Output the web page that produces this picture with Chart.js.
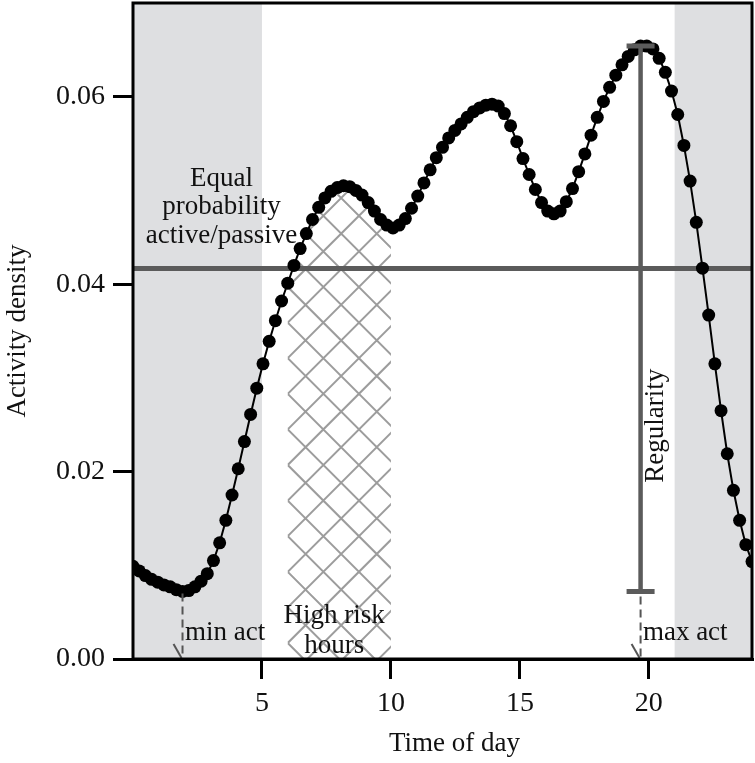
<!DOCTYPE html>
<html lang="en">
<head>
<meta charset="utf-8">
<title>Activity density by time of day</title>
<style>
  html, body { margin: 0; padding: 0; background: #fff; }
  #wrap { width: 755px; height: 763px; }
</style>
</head>
<body>
<div id="wrap"><canvas id="activityChart" width="755" height="763"></canvas></div>

<script src="https://cdn.jsdelivr.net/npm/chart.js@4.4.1/dist/chart.umd.min.js"></script>
<script>
// time grid (hours) and activity density
const hours = [
  0.00, 0.24, 0.48, 0.72, 0.96, 1.20, 1.44, 1.68, 1.92, 2.16,
  2.40, 2.64, 2.88, 3.12, 3.36, 3.60, 3.84, 4.08, 4.32, 4.56,
  4.80, 5.04, 5.28, 5.52, 5.76, 6.00, 6.24, 6.48, 6.72, 6.96,
  7.20, 7.44, 7.68, 7.92, 8.16, 8.40, 8.64, 8.88, 9.12, 9.36,
  9.60, 9.84, 10.08, 10.32, 10.56, 10.80, 11.04, 11.28, 11.52, 11.76,
  12.00, 12.24, 12.48, 12.72, 12.96, 13.20, 13.44, 13.68, 13.92, 14.16,
  14.40, 14.64, 14.88, 15.12, 15.36, 15.60, 15.84, 16.08, 16.32, 16.56,
  16.80, 17.04, 17.28, 17.52, 17.76, 18.00, 18.24, 18.48, 18.72, 18.96,
  19.20, 19.44, 19.68, 19.92, 20.16, 20.40, 20.64, 20.88, 21.12, 21.36,
  21.60, 21.84, 22.08, 22.32, 22.56, 22.80, 23.04, 23.28, 23.52, 23.76,
  24.00
];
const density = [
  0.0099, 0.0094, 0.0089, 0.0085, 0.0082, 0.0079, 0.0077, 0.0074, 0.0072, 0.0073,
  0.0077, 0.0083, 0.0091, 0.0105, 0.0124, 0.0148, 0.0175, 0.0203, 0.0232, 0.0261,
  0.0289, 0.0315, 0.0339, 0.0361, 0.0382, 0.0401, 0.0420, 0.0438, 0.0454, 0.0469,
  0.0482, 0.0492, 0.0499, 0.0503, 0.0505, 0.0504, 0.0500, 0.0495, 0.0487, 0.0478,
  0.0469, 0.0463, 0.0460, 0.0463, 0.0470, 0.0481, 0.0494, 0.0508, 0.0522, 0.0535,
  0.0546, 0.0556, 0.0564, 0.0571, 0.0578, 0.0584, 0.0588, 0.0591, 0.0592, 0.0590,
  0.0582, 0.0569, 0.0552, 0.0534, 0.0517, 0.0501, 0.0487, 0.0478, 0.0475, 0.0478,
  0.0488, 0.0502, 0.0520, 0.0539, 0.0559, 0.0578, 0.0595, 0.0610, 0.0623, 0.0634,
  0.0643, 0.0650, 0.0654, 0.0654, 0.0651, 0.0641, 0.0626, 0.0606, 0.0581, 0.0548,
  0.0510, 0.0466, 0.0417, 0.0367, 0.0315, 0.0265, 0.0219, 0.0180, 0.0148, 0.0122,
  0.0104
];
const xTicks = [5, 10, 15, 20];
const yTicks = [0, 0.02, 0.04, 0.06];
const nightHours = [[0, 5], [21, 24]];   // grey background
const riskHours = [6, 10];               // hatched block
const equalLevel = 0.04167;              // 1/24, equal probability active/passive

const FONT = '"Liberation Serif", "Times New Roman", serif';
const DARK_GREY = '#5b5b5b';

const iMax = density.indexOf(Math.max(...density));
const iMin = density.indexOf(Math.min(...density));

// density value at an arbitrary hour, only used for the hatch outline
function densityAt(h) {
  for (let i = 1; i < hours.length; i++) {
    if (hours[i] >= h) {
      const t = (h - hours[i - 1]) / (hours[i] - hours[i - 1]);
      return density[i - 1] + t * (density[i] - density[i - 1]);
    }
  }
  return density[density.length - 1];
}

const backdrop = {
  id: 'backdrop',
  beforeDatasetsDraw(chart) {
    const { ctx, chartArea: a, scales: { x, y } } = chart;
    ctx.save();
    ctx.beginPath();
    ctx.rect(a.left, a.top, a.right - a.left, a.bottom - a.top);
    ctx.clip();

    ctx.fillStyle = '#dedfe1';
    nightHours.forEach(([s, e]) => {
      const x0 = x.getPixelForValue(s), x1 = x.getPixelForValue(e);
      ctx.fillRect(x0, a.top, x1 - x0, a.bottom - a.top);
    });

    // cross hatch under the curve for the high risk hours
    ctx.save();
    const [h0, h1] = riskHours;
    const px0 = x.getPixelForValue(h0), px1 = x.getPixelForValue(h1);
    ctx.beginPath();
    ctx.moveTo(px0, a.bottom);
    ctx.lineTo(px0, y.getPixelForValue(densityAt(h0)));
    hours.forEach((h, i) => {
      if (h > h0 && h < h1) ctx.lineTo(x.getPixelForValue(h), y.getPixelForValue(density[i]));
    });
    ctx.lineTo(px1, y.getPixelForValue(densityAt(h1)));
    ctx.lineTo(px1, a.bottom);
    ctx.closePath();
    ctx.clip();
    const step = 35.6;
    const ax = px0, ay = a.bottom - 16;
    const xa = px0 - 60, xb = px1 + 60;
    ctx.strokeStyle = '#9c9c9c';
    ctx.lineWidth = 2;
    ctx.beginPath();
    for (let k = -40; k <= 40; k++) {
      const c1 = ay - ax + k * step;
      ctx.moveTo(xa, xa + c1);
      ctx.lineTo(xb, xb + c1);
      const c2 = ay + ax + k * step;
      ctx.moveTo(xa, c2 - xa);
      ctx.lineTo(xb, c2 - xb);
    }
    ctx.stroke();
    ctx.restore();

    // equal probability line
    const ly = y.getPixelForValue(equalLevel);
    ctx.strokeStyle = DARK_GREY;
    ctx.lineWidth = 5;
    ctx.beginPath();
    ctx.moveTo(a.left, ly);
    ctx.lineTo(a.right, ly);
    ctx.stroke();

    // labels
    ctx.fillStyle = '#111';
    ctx.font = '27px ' + FONT;
    ctx.textBaseline = 'alphabetic';
    ctx.textAlign = 'center';
    const cx = x.getPixelForValue(3.43);
    ctx.fillText('Equal', cx, y.getPixelForValue(0.0505));
    ctx.fillText('probability', cx, y.getPixelForValue(0.0475));
    ctx.fillText('active/passive', cx, y.getPixelForValue(0.0444));
    const rx = x.getPixelForValue(7.8);
    ctx.fillText('High risk', rx, y.getPixelForValue(0.0038));
    ctx.fillText('hours', rx, y.getPixelForValue(0.0006));
    ctx.textAlign = 'left';
    ctx.fillText('min act', x.getPixelForValue(2.02), y.getPixelForValue(0.0020));
    ctx.fillText('max act', x.getPixelForValue(19.77), y.getPixelForValue(0.0020));

    ctx.save();
    ctx.translate(x.getPixelForValue(20.55), y.getPixelForValue(0.0249));
    ctx.rotate(-Math.PI / 2);
    ctx.textAlign = 'center';
    ctx.fillText('Regularity', 0, 0);
    ctx.restore();

    ctx.restore();
  },
  afterDatasetsDraw(chart) {
    const { ctx, chartArea: a, scales: { x, y } } = chart;
    ctx.save();

    // regularity: min to max of the curve
    const rx = x.getPixelForValue(hours[iMax]);
    const top = y.getPixelForValue(density[iMax]);
    const bot = y.getPixelForValue(density[iMin]);
    ctx.strokeStyle = DARK_GREY;
    ctx.lineWidth = 4.5;
    ctx.beginPath();
    ctx.moveTo(rx, top);
    ctx.lineTo(rx, bot);
    ctx.stroke();
    ctx.lineWidth = 5;
    ctx.beginPath();
    ctx.moveTo(rx - 14, top); ctx.lineTo(rx + 14, top);
    ctx.moveTo(rx - 14, bot); ctx.lineTo(rx + 14, bot);
    ctx.stroke();

    // dashed arrows down to the time axis
    const arrow = (px, fromY) => {
      ctx.strokeStyle = '#555';
      ctx.lineWidth = 2;
      ctx.setLineDash([8, 5]);
      ctx.beginPath();
      ctx.moveTo(px, fromY);
      ctx.lineTo(px, a.bottom);
      ctx.stroke();
      ctx.setLineDash([]);
      ctx.beginPath();
      ctx.moveTo(px - 9, a.bottom - 15);
      ctx.lineTo(px - 1, a.bottom - 1);
      ctx.stroke();
    };
    arrow(x.getPixelForValue(hours[iMin]), bot + 2);
    arrow(rx, bot + 5);

    // plot box
    ctx.strokeStyle = '#000';
    ctx.lineWidth = 3;
    ctx.strokeRect(a.left, a.top, a.right - a.left, a.bottom - a.top);

    // x axis title
    ctx.fillStyle = '#111';
    ctx.font = '27px ' + FONT;
    ctx.textAlign = 'center';
    ctx.textBaseline = 'middle';
    ctx.fillText('Time of day', (a.left + a.right) / 2 + 12, 744);
    ctx.restore();
  }
};

const ctx = document.getElementById('activityChart').getContext('2d');

new Chart(ctx, {
  type: 'line',
  data: {
    datasets: [{
      label: 'Activity density',
      data: hours.map((h, i) => ({ x: h, y: density[i] })),
      borderColor: '#000',
      borderWidth: 2,
      pointRadius: 6.5,
      pointBackgroundColor: '#000',
      pointBorderWidth: 0,
      pointHoverRadius: 6.5,
      tension: 0,
      clip: 0
    }]
  },
  options: {
    responsive: false,
    animation: false,
    devicePixelRatio: 1,
    layout: { autoPadding: false, padding: { top: 3, right: 3, left: 0, bottom: 0 } },
    plugins: {
      legend: { display: false },
      tooltip: { enabled: false }
    },
    scales: {
      x: {
        type: 'linear',
        min: 0,
        max: 24,
        afterBuildTicks: s => { s.ticks = xTicks.map(v => ({ value: v })); },
        afterFit: s => { s.height = 104; s.paddingLeft = 0; s.paddingRight = 0; },
        grid: { drawOnChartArea: false, drawTicks: true, tickLength: 20, lineWidth: 3, color: '#000' },
        border: { display: true, color: '#000', width: 3 },
        ticks: {
          color: '#111',
          padding: 8,
          font: { family: FONT, size: 28 },
          callback: v => String(v)
        },
        title: { display: false }
      },
      y: {
        min: 0,
        max: 0.07,
        afterBuildTicks: s => { s.ticks = yTicks.map(v => ({ value: v })); },
        afterFit: s => { s.width = 133; s.paddingTop = 0; s.paddingBottom = 0; },
        grid: { drawOnChartArea: false, drawTicks: true, tickLength: 20, lineWidth: 3, color: '#000' },
        border: { display: true, color: '#000', width: 3 },
        ticks: {
          color: '#111',
          padding: 8,
          font: { family: FONT, size: 28 },
          callback: v => v.toFixed(2)
        },
        title: {
          display: true,
          text: 'Activity density',
          color: '#111',
          font: { family: FONT, size: 27 },
          padding: { top: 2, bottom: 0 }
        }
      }
    }
  },
  plugins: [backdrop]
});
</script>
</body>
</html>
